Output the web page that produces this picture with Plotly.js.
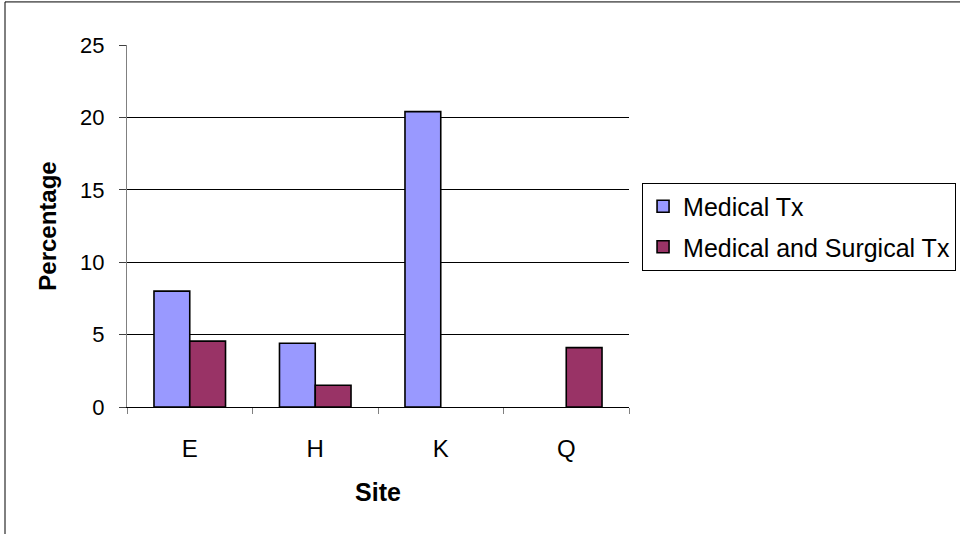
<!DOCTYPE html>
<html>
<head>
<meta charset="utf-8">
<script src="https://cdn.plot.ly/plotly-3.0.1.min.js"></script>
<style>
  html, body { margin: 0; padding: 0; background: #ffffff; }
  #chart { width: 960px; height: 534px; }
</style>
</head>
<body>
<div id="chart"></div>
<script>
const sites = ["E", "H", "K", "Q"];
const medicalTx = [8.0, 4.4, 20.4, null];
const medicalSurgicalTx = [4.55, 1.5, null, 4.1];
const seriesNames = ["Medical Tx", "Medical and Surgical Tx"];
const yTickValues = [0, 5, 10, 15, 20, 25];

const FONT = "Arial, 'Liberation Sans', sans-serif";

const traces = [
  {
    type: "bar",
    name: seriesNames[0],
    legendgroup: "g1",
    x: sites,
    y: medicalTx,
    marker: { color: "#9999FF", line: { color: "#000000", width: 1.6 } },
    hoverinfo: "x+y+name"
  },
  {
    type: "bar",
    name: seriesNames[1],
    legendgroup: "g2",
    x: sites,
    y: medicalSurgicalTx,
    marker: { color: "#993366", line: { color: "#000000", width: 1.6 } },
    hoverinfo: "x+y+name"
  }
];

const layout = {
  width: 960,
  height: 534,
  paper_bgcolor: "#ffffff",
  plot_bgcolor: "#ffffff",
  margin: { l: 127, r: 331, t: 45, b: 127, pad: 0, autoexpand: false },
  barmode: "group",
  bargap: 0.43,
  bargroupgap: 0,
  font: { family: FONT, size: 22, color: "#000000" },
  showlegend: true,
  legend: {
    x: 1.026,
    xanchor: "left",
    y: 0.62,
    yanchor: "top",
    bgcolor: "#ffffff",
    bordercolor: "#000000",
    borderwidth: 1,
    font: { family: FONT, size: 25, color: "#000000" },
    tracegroupgap: 5
  },
  xaxis: {
    type: "category",
    showgrid: false,
    showline: true,
    linecolor: "#000000",
    linewidth: 1,
    ticks: "outside",
    tickson: "boundaries",
    ticklen: 6,
    tickcolor: "#808080",
    tickfont: { family: FONT, size: 24, color: "#000000" },
    ticklabelstandoff: 20,
    zeroline: false,
    title: { text: "Site", font: { family: FONT, size: 25, color: "#000000", weight: "bold" }, standoff: 22 }
  },
  yaxis: {
    range: [0, 25],
    tickvals: yTickValues,
    showgrid: true,
    gridcolor: "#000000",
    gridwidth: 1,
    showline: true,
    linecolor: "#808080",
    linewidth: 1,
    ticks: "outside",
    ticklen: 7,
    tickcolor: "#404040",
    tickfont: { family: FONT, size: 22, color: "#000000" },
    ticklabelstandoff: 10,
    zeroline: true,
    zerolinecolor: "#000000",
    zerolinewidth: 1,
    title: { text: "Percentage", font: { family: FONT, size: 24, color: "#000000", weight: "bold" }, standoff: 16 }
  },
  shapes: [
    {
      type: "rect",
      xref: "paper", yref: "paper",
      x0: -0.243, x1: 1.7, y0: -0.5, y1: 1.119,
      line: { color: "#000000", width: 1 },
      fillcolor: "rgba(0,0,0,0)",
      layer: "below"
    }
  ]
};

Plotly.newPlot("chart", traces, layout, { displayModeBar: false, staticPlot: true });
</script>
</body>
</html>
